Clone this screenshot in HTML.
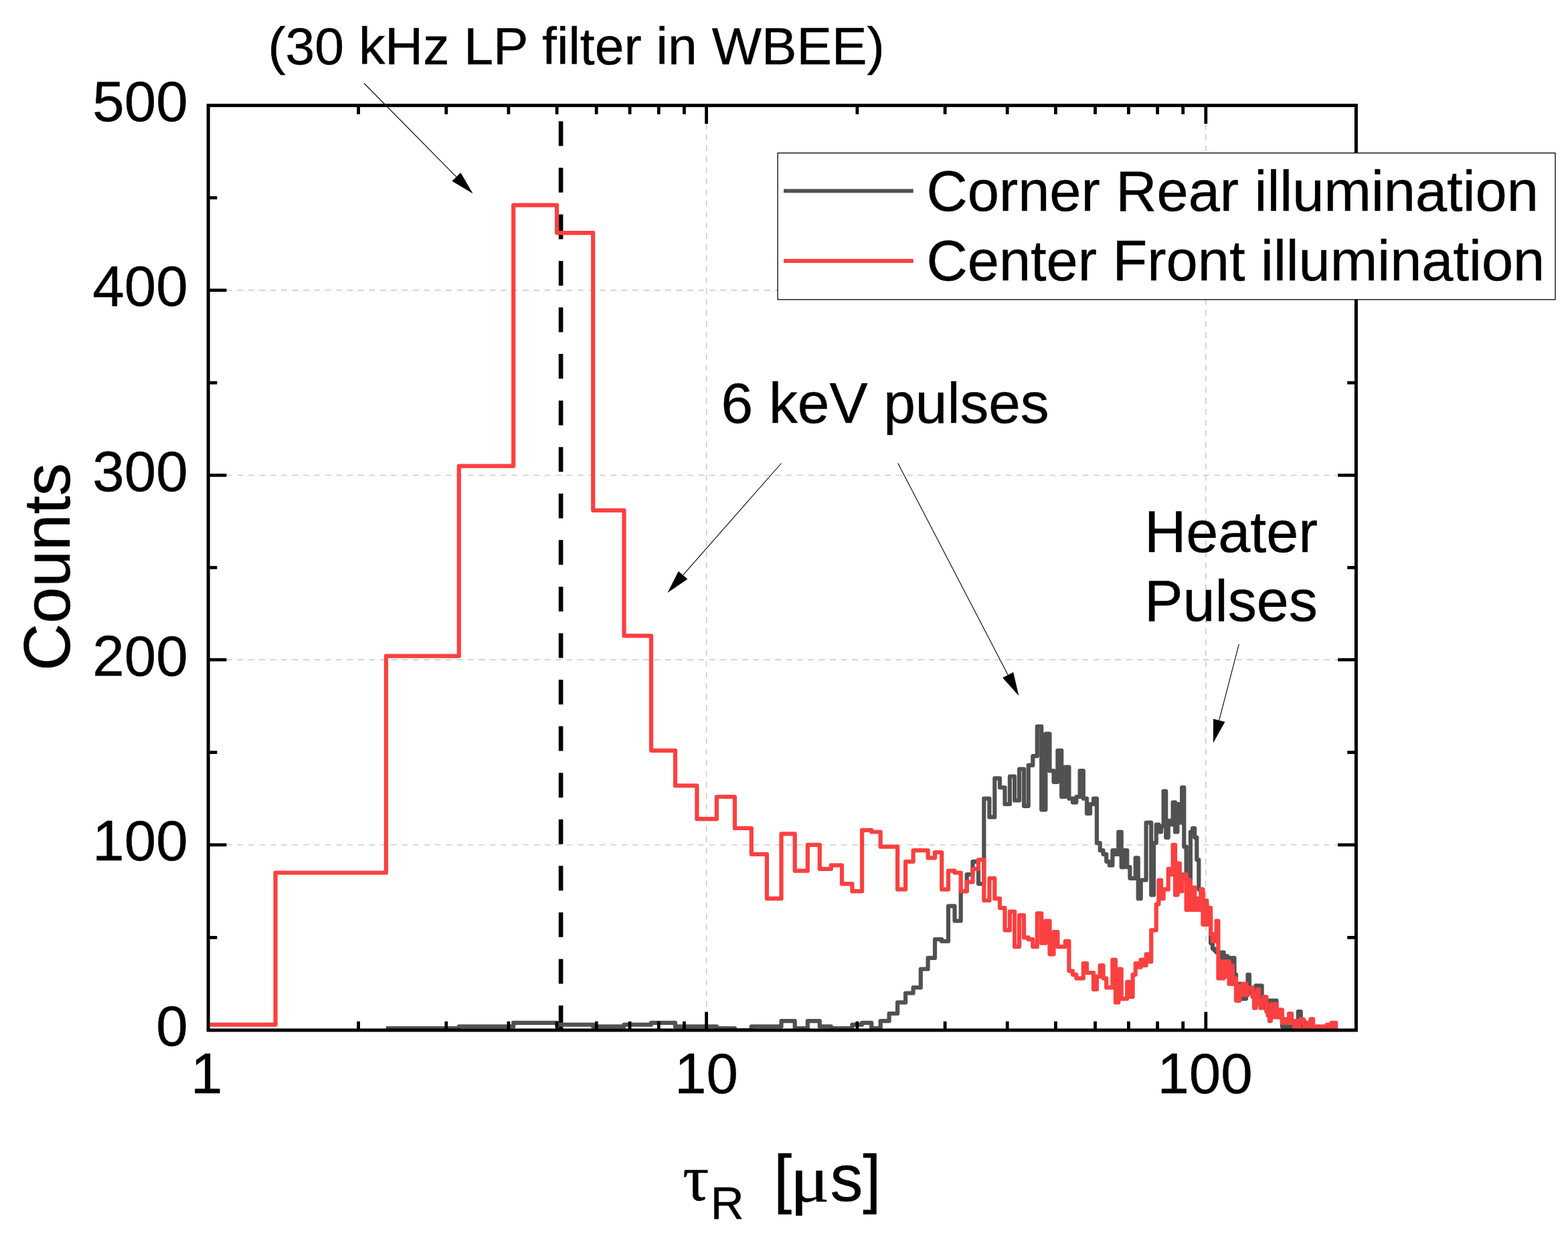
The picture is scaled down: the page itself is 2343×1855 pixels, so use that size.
<!DOCTYPE html>
<html lang="en"><head><meta charset="utf-8"><title>Rise time histogram</title>
<style>html,body{margin:0;padding:0;background:#fff}body{width:2343px;height:1855px;overflow:hidden}svg{display:block}</style>
</head><body>
<svg width="2343" height="1855" viewBox="0 0 2343 1855" font-family='"Liberation Sans", Arial, sans-serif' fill="#000"><style>text{stroke:#000;stroke-width:0.45px;stroke-linejoin:round}</style>
<rect x="0" y="0" width="2343" height="1855" fill="#fff"/>
<path d="M338.2 1262.9H1999.4 M338.2 986.2H1999.4 M338.2 710.4H1999.4 M338.2 433.8H1999.4 M1055.6 184.6V1512.9 M1801.8 184.6V1512.9" stroke="#c6c6c6" stroke-width="1.4" stroke-dasharray="8.8 7.6" fill="none"/>
<path d="M838.1 181.3V1539.9" stroke="#000" stroke-width="6.6" stroke-dasharray="37 32.56" fill="none"/>
<clipPath id="pc"><rect x="313.6" y="160.0" width="1710.4" height="1379.9"/></clipPath>
<g clip-path="url(#pc)" fill="none" stroke-width="6.2" stroke-linejoin="round" stroke-linecap="butt">
<path d="M576.9 1537.1 L685.8 1537.1 L685.8 1534.4 L767.2 1534.4 L767.2 1528.8 L832.1 1528.8 L832.1 1531.6 L886.2 1531.6 L886.2 1534.4 L932.5 1534.4 L932.5 1531.6 L973.0 1531.6 L973.0 1528.8 L1009.0 1528.8 L1009.0 1534.4 L1070.9 1534.4 L1070.9 1537.1 L1097.9 1537.1 L1097.9 1539.9 L1122.8 1539.9 L1122.8 1534.4 L1167.5 1534.4 L1167.5 1526.1 L1187.7 1526.1 L1187.7 1537.1 L1206.8 1537.1 L1206.8 1526.1 L1224.8 1526.1 L1224.8 1534.4 L1241.8 1534.4 L1241.8 1537.1 L1273.4 1537.1 L1273.4 1531.6 L1288.1 1531.6 L1288.1 1528.8 L1302.2 1528.8 L1302.2 1537.1 L1315.7 1537.1 L1315.7 1526.1 L1328.6 1526.1 L1328.6 1515.0 L1341.1 1515.0 L1341.1 1498.4 L1353.1 1498.4 L1353.1 1484.5 L1364.6 1484.5 L1364.6 1476.2 L1375.8 1476.2 L1375.8 1448.5 L1386.6 1448.5 L1386.6 1431.9 L1397.0 1431.9 L1397.0 1404.2 L1407.2 1404.2 L1407.2 1406.9 L1417.0 1406.9 L1417.0 1354.3 L1426.5 1354.3 L1426.5 1376.5 L1435.7 1376.5 L1435.7 1332.2 L1444.7 1332.2 L1444.7 1307.2 L1453.5 1307.2 L1453.5 1287.8 L1462.0 1287.8 L1462.0 1321.1 L1470.3 1321.1 L1470.3 1193.7 L1478.4 1193.7 L1478.4 1221.4 L1486.3 1221.4 L1486.3 1163.3 L1494.0 1163.3 L1494.0 1177.1 L1501.5 1177.1 L1501.5 1202.0 L1508.9 1202.0 L1508.9 1160.5 L1516.1 1160.5 L1516.1 1196.5 L1523.1 1196.5 L1523.1 1149.5 L1530.0 1149.5 L1530.0 1204.8 L1536.7 1204.8 L1536.7 1143.9 L1543.3 1143.9 L1543.3 1130.1 L1549.8 1130.1 L1549.8 1085.8 L1556.2 1085.8 L1556.2 1210.3 L1562.4 1210.3 L1562.4 1096.9 L1568.5 1096.9 L1568.5 1152.2 L1574.5 1152.2 L1574.5 1168.8 L1580.4 1168.8 L1580.4 1121.8 L1586.2 1121.8 L1586.2 1191.0 L1591.8 1191.0 L1591.8 1146.7 L1597.4 1146.7 L1597.4 1193.7 L1602.9 1193.7 L1602.9 1199.3 L1608.3 1199.3 L1608.3 1191.0 L1613.6 1191.0 L1613.6 1152.2 L1618.8 1152.2 L1618.8 1193.7 L1624.0 1193.7 L1624.0 1215.9 L1629.0 1215.9 L1629.0 1202.0 L1634.0 1202.0 L1634.0 1193.7 L1638.9 1193.7 L1638.9 1260.1 L1643.7 1260.1 L1643.7 1271.2 L1648.5 1271.2 L1648.5 1276.8 L1653.2 1276.8 L1653.2 1287.8 L1657.8 1287.8 L1657.8 1293.4 L1662.4 1293.4 L1662.4 1271.2 L1666.9 1271.2 L1666.9 1276.8 L1671.3 1276.8 L1671.3 1243.5 L1675.7 1243.5 L1675.7 1296.1 L1680.0 1296.1 L1680.0 1271.2 L1684.2 1271.2 L1684.2 1296.1 L1688.4 1296.1 L1688.4 1312.8 L1696.7 1312.8 L1696.7 1282.3 L1700.7 1282.3 L1700.7 1343.2 L1704.7 1343.2 L1704.7 1315.5 L1712.6 1315.5 L1712.6 1229.7 L1720.2 1229.7 L1720.2 1337.7 L1724.0 1337.7 L1724.0 1260.1 L1727.7 1260.1 L1727.7 1232.5 L1731.4 1232.5 L1731.4 1243.5 L1735.0 1243.5 L1735.0 1235.2 L1738.6 1235.2 L1738.6 1182.7 L1742.2 1182.7 L1742.2 1251.8 L1745.7 1251.8 L1745.7 1226.9 L1749.2 1226.9 L1749.2 1232.5 L1752.6 1232.5 L1752.6 1199.3 L1756.0 1199.3 L1756.0 1243.5 L1759.4 1243.5 L1759.4 1202.0 L1762.8 1202.0 L1762.8 1229.7 L1766.1 1229.7 L1766.1 1177.1 L1769.3 1177.1 L1769.3 1265.7 L1772.6 1265.7 L1772.6 1318.3 L1778.9 1318.3 L1778.9 1243.5 L1782.1 1243.5 L1782.1 1238.0 L1785.2 1238.0 L1785.2 1251.8 L1788.3 1251.8 L1788.3 1285.1 L1791.3 1285.1 L1791.3 1329.4 L1794.4 1329.4 L1794.4 1334.9 L1797.4 1334.9 L1797.4 1351.5 L1803.3 1351.5 L1803.3 1362.6 L1806.2 1362.6 L1806.2 1368.2 L1809.1 1368.2 L1809.1 1409.7 L1811.9 1409.7 L1811.9 1418.0 L1814.8 1418.0 L1814.8 1420.8 L1817.6 1420.8 L1817.6 1423.6 L1823.1 1423.6 L1823.1 1437.4 L1825.9 1437.4 L1825.9 1423.6 L1828.6 1423.6 L1828.6 1440.2 L1831.3 1440.2 L1831.3 1429.1 L1834.0 1429.1 L1834.0 1440.2 L1836.6 1440.2 L1836.6 1431.9 L1839.3 1431.9 L1839.3 1443.0 L1841.9 1443.0 L1841.9 1431.9 L1844.5 1431.9 L1844.5 1456.8 L1847.0 1456.8 L1847.0 1492.8 L1849.6 1492.8 L1849.6 1495.6 L1852.1 1495.6 L1852.1 1470.7 L1854.6 1470.7 L1854.6 1492.8 L1862.0 1492.8 L1862.0 1484.5 L1864.5 1484.5 L1864.5 1456.8 L1866.9 1456.8 L1866.9 1479.0 L1869.3 1479.0 L1869.3 1484.5 L1871.7 1484.5 L1871.7 1490.0 L1874.0 1490.0 L1874.0 1479.0 L1876.4 1479.0 L1876.4 1473.4 L1885.6 1473.4 L1885.6 1490.0 L1887.9 1490.0 L1887.9 1501.1 L1890.1 1501.1 L1890.1 1506.7 L1894.5 1506.7 L1894.5 1495.6 L1898.9 1495.6 L1898.9 1506.7 L1901.1 1506.7 L1901.1 1495.6 L1907.5 1495.6 L1907.5 1512.2 L1909.7 1512.2 L1909.7 1517.7 L1911.8 1517.7 L1911.8 1520.5 L1915.9 1520.5 L1915.9 1534.4 L1918.0 1534.4 L1918.0 1537.1 L1920.0 1537.1 L1920.0 1534.4 L1922.1 1534.4 L1922.1 1537.1 L1924.1 1537.1 L1924.1 1534.4 L1926.1 1534.4 L1926.1 1537.1 L1928.1 1537.1 L1928.1 1534.4 L1932.1 1534.4 L1932.1 1531.6 L1936.0 1531.6 L1936.0 1528.8 L1937.9 1528.8 L1937.9 1526.1 L1939.8 1526.1 L1939.8 1512.2 L1943.7 1512.2 L1943.7 1526.1 L1945.5 1526.1 L1945.5 1531.6 L1947.4 1531.6 L1947.4 1534.4 L1954.8 1534.4 L1954.8 1537.1 L1967.4 1537.1 L1967.4 1539.9" stroke="#515151"/>
<path d="M311.2 1531.6 L411.6 1531.6 L411.6 1304.5 L576.9 1304.5 L576.9 980.7 L685.8 980.7 L685.8 696.6 L767.2 696.6 L767.2 306.7 L832.1 306.7 L832.1 348.1 L886.2 348.1 L886.2 762.8 L932.5 762.8 L932.5 950.3 L973.0 950.3 L973.0 1121.8 L1009.0 1121.8 L1009.0 1174.4 L1041.4 1174.4 L1041.4 1224.2 L1070.9 1224.2 L1070.9 1191.0 L1097.9 1191.0 L1097.9 1238.0 L1122.8 1238.0 L1122.8 1276.8 L1145.9 1276.8 L1145.9 1343.2 L1167.5 1343.2 L1167.5 1246.3 L1187.7 1246.3 L1187.7 1301.7 L1206.8 1301.7 L1206.8 1262.9 L1224.8 1262.9 L1224.8 1298.9 L1241.8 1298.9 L1241.8 1293.4 L1258.0 1293.4 L1258.0 1321.1 L1273.4 1321.1 L1273.4 1332.2 L1288.1 1332.2 L1288.1 1240.8 L1302.2 1240.8 L1302.2 1243.5 L1315.7 1243.5 L1315.7 1265.7 L1341.1 1265.7 L1341.1 1329.4 L1353.1 1329.4 L1353.1 1287.8 L1364.6 1287.8 L1364.6 1271.2 L1386.6 1271.2 L1386.6 1282.3 L1397.0 1282.3 L1397.0 1274.0 L1407.2 1274.0 L1407.2 1329.4 L1417.0 1329.4 L1417.0 1301.7 L1426.5 1301.7 L1426.5 1304.5 L1435.7 1304.5 L1435.7 1332.2 L1444.7 1332.2 L1444.7 1318.3 L1453.5 1318.3 L1453.5 1298.9 L1462.0 1298.9 L1462.0 1285.1 L1470.3 1285.1 L1470.3 1346.0 L1478.4 1346.0 L1478.4 1312.8 L1486.3 1312.8 L1486.3 1343.2 L1494.0 1343.2 L1494.0 1357.1 L1501.5 1357.1 L1501.5 1390.3 L1508.9 1390.3 L1508.9 1362.6 L1516.1 1362.6 L1516.1 1415.2 L1523.1 1415.2 L1523.1 1368.2 L1530.0 1368.2 L1530.0 1401.4 L1536.7 1401.4 L1536.7 1404.2 L1543.3 1404.2 L1543.3 1415.2 L1549.8 1415.2 L1549.8 1365.4 L1556.2 1365.4 L1556.2 1409.7 L1562.4 1409.7 L1562.4 1376.5 L1568.5 1376.5 L1568.5 1426.3 L1574.5 1426.3 L1574.5 1393.1 L1580.4 1393.1 L1580.4 1415.2 L1591.8 1415.2 L1591.8 1406.9 L1597.4 1406.9 L1597.4 1451.3 L1602.9 1451.3 L1602.9 1456.8 L1608.3 1456.8 L1608.3 1462.3 L1618.8 1462.3 L1618.8 1440.2 L1624.0 1440.2 L1624.0 1454.0 L1634.0 1454.0 L1634.0 1479.0 L1638.9 1479.0 L1638.9 1459.6 L1643.7 1459.6 L1643.7 1443.0 L1648.5 1443.0 L1648.5 1462.3 L1653.2 1462.3 L1653.2 1476.2 L1662.4 1476.2 L1662.4 1434.6 L1666.9 1434.6 L1666.9 1498.4 L1671.3 1498.4 L1671.3 1448.5 L1675.7 1448.5 L1675.7 1492.8 L1684.2 1492.8 L1684.2 1467.9 L1688.4 1467.9 L1688.4 1490.0 L1692.6 1490.0 L1692.6 1456.8 L1696.7 1456.8 L1696.7 1440.2 L1700.7 1440.2 L1700.7 1445.7 L1704.7 1445.7 L1704.7 1434.6 L1708.7 1434.6 L1708.7 1443.0 L1712.6 1443.0 L1712.6 1426.3 L1716.4 1426.3 L1716.4 1437.4 L1720.2 1437.4 L1720.2 1390.3 L1727.7 1390.3 L1727.7 1351.5 L1731.4 1351.5 L1731.4 1315.5 L1735.0 1315.5 L1735.0 1343.2 L1738.6 1343.2 L1738.6 1329.4 L1745.7 1329.4 L1745.7 1298.9 L1749.2 1298.9 L1749.2 1307.2 L1752.6 1307.2 L1752.6 1262.9 L1756.0 1262.9 L1756.0 1337.7 L1759.4 1337.7 L1759.4 1290.6 L1762.8 1290.6 L1762.8 1332.2 L1766.1 1332.2 L1766.1 1307.2 L1772.6 1307.2 L1772.6 1359.9 L1775.8 1359.9 L1775.8 1315.5 L1778.9 1315.5 L1778.9 1359.9 L1782.1 1359.9 L1782.1 1326.6 L1785.2 1326.6 L1785.2 1359.9 L1788.3 1359.9 L1788.3 1343.2 L1791.3 1343.2 L1791.3 1359.9 L1794.4 1359.9 L1794.4 1329.4 L1797.4 1329.4 L1797.4 1382.0 L1800.3 1382.0 L1800.3 1346.0 L1803.3 1346.0 L1803.3 1382.0 L1806.2 1382.0 L1806.2 1357.1 L1809.1 1357.1 L1809.1 1395.9 L1811.9 1395.9 L1811.9 1406.9 L1817.6 1406.9 L1817.6 1376.5 L1820.4 1376.5 L1820.4 1462.3 L1823.1 1462.3 L1823.1 1437.4 L1825.9 1437.4 L1825.9 1462.3 L1828.6 1462.3 L1828.6 1437.4 L1831.3 1437.4 L1831.3 1459.6 L1834.0 1459.6 L1834.0 1437.4 L1836.6 1437.4 L1836.6 1470.7 L1839.3 1470.7 L1839.3 1443.0 L1841.9 1443.0 L1841.9 1470.7 L1844.5 1470.7 L1844.5 1462.3 L1847.0 1462.3 L1847.0 1495.6 L1852.1 1495.6 L1852.1 1473.4 L1854.6 1473.4 L1854.6 1487.3 L1857.1 1487.3 L1857.1 1470.7 L1862.0 1470.7 L1862.0 1487.3 L1864.5 1487.3 L1864.5 1476.2 L1871.7 1476.2 L1871.7 1490.0 L1874.0 1490.0 L1874.0 1506.7 L1876.4 1506.7 L1876.4 1484.5 L1878.7 1484.5 L1878.7 1479.0 L1881.0 1479.0 L1881.0 1501.1 L1883.3 1501.1 L1883.3 1506.7 L1885.6 1506.7 L1885.6 1495.6 L1887.9 1495.6 L1887.9 1490.0 L1892.3 1490.0 L1892.3 1512.2 L1894.5 1512.2 L1894.5 1517.7 L1896.8 1517.7 L1896.8 1526.1 L1898.9 1526.1 L1898.9 1501.1 L1901.1 1501.1 L1901.1 1520.5 L1903.3 1520.5 L1903.3 1501.1 L1907.5 1501.1 L1907.5 1520.5 L1909.7 1520.5 L1909.7 1515.0 L1911.8 1515.0 L1911.8 1509.4 L1915.9 1509.4 L1915.9 1528.8 L1918.0 1528.8 L1918.0 1523.3 L1922.1 1523.3 L1922.1 1528.8 L1924.1 1528.8 L1924.1 1523.3 L1926.1 1523.3 L1926.1 1515.0 L1930.1 1515.0 L1930.1 1528.8 L1932.1 1528.8 L1932.1 1526.1 L1934.0 1526.1 L1934.0 1537.1 L1936.0 1537.1 L1936.0 1526.1 L1939.8 1526.1 L1939.8 1537.1 L1941.8 1537.1 L1941.8 1528.8 L1943.7 1528.8 L1943.7 1523.3 L1947.4 1523.3 L1947.4 1526.1 L1949.3 1526.1 L1949.3 1537.1 L1951.2 1537.1 L1951.2 1528.8 L1954.8 1528.8 L1954.8 1537.1 L1956.7 1537.1 L1956.7 1531.6 L1958.5 1531.6 L1958.5 1523.3 L1962.1 1523.3 L1962.1 1537.1 L1963.9 1537.1 L1963.9 1534.4 L1967.4 1534.4 L1967.4 1539.9 L1969.2 1539.9 L1969.2 1534.4 L1972.7 1534.4 L1972.7 1537.1 L1974.4 1537.1 L1974.4 1534.4 L1977.9 1534.4 L1977.9 1539.9 L1979.6 1539.9 L1979.6 1534.4 L1981.3 1534.4 L1981.3 1537.1 L1982.9 1537.1 L1982.9 1531.6 L1987.9 1531.6 L1987.9 1537.1 L1989.6 1537.1 L1989.6 1528.8 L1992.9 1528.8 L1992.9 1534.4 L1994.5 1534.4 L1994.5 1528.8 L1996.1 1528.8 L1996.1 1539.9" stroke="#fb4040"/>
</g>
<rect x="311.2" y="157.6" width="1715.2" height="1382.3" fill="none" stroke="#000" stroke-width="5"/>
<path d="M311.2 1401.4h13.2 M2026.4 1401.4h-13.2 M311.2 1262.9h27.3 M2026.4 1262.9h-27.3 M311.2 1124.6h13.2 M2026.4 1124.6h-13.2 M311.2 986.2h27.3 M2026.4 986.2h-27.3 M311.2 848.3h13.2 M2026.4 848.3h-13.2 M311.2 710.4h27.3 M2026.4 710.4h-27.3 M311.2 572.1h13.2 M2026.4 572.1h-13.2 M311.2 433.8h27.3 M2026.4 433.8h-27.3 M311.2 295.6h13.2 M2026.4 295.6h-13.2 M535.6 1539.9v-13.2 M535.6 157.6v13.2 M666.8 1539.9v-13.2 M666.8 157.6v13.2 M759.9 1539.9v-13.2 M759.9 157.6v13.2 M832.1 1539.9v-13.2 M832.1 157.6v13.2 M891.2 1539.9v-13.2 M891.2 157.6v13.2 M941.1 1539.9v-13.2 M941.1 157.6v13.2 M984.3 1539.9v-13.2 M984.3 157.6v13.2 M1022.4 1539.9v-13.2 M1022.4 157.6v13.2 M1055.6 1539.9v-27.3 M1055.6 157.6v27.3 M1280.9 1539.9v-13.2 M1280.9 157.6v13.2 M1412.1 1539.9v-13.2 M1412.1 157.6v13.2 M1505.2 1539.9v-13.2 M1505.2 157.6v13.2 M1577.4 1539.9v-13.2 M1577.4 157.6v13.2 M1636.5 1539.9v-13.2 M1636.5 157.6v13.2 M1686.4 1539.9v-13.2 M1686.4 157.6v13.2 M1729.6 1539.9v-13.2 M1729.6 157.6v13.2 M1767.7 1539.9v-13.2 M1767.7 157.6v13.2 M1801.8 1539.9v-27.3 M1801.8 157.6v27.3" stroke="#000" stroke-width="4.8" fill="none"/>
<g font-size="85.3" text-anchor="end">
<text x="280.6" y="1563.2">0</text>
<text x="280.6" y="1286.2">100</text>
<text x="280.6" y="1009.5">200</text>
<text x="280.6" y="733.7">300</text>
<text x="280.6" y="457.1">400</text>
<text x="280.6" y="180.8">500</text>
</g>
<g font-size="85.3" text-anchor="middle">
<text x="308.7" y="1634.0">1</text>
<text x="1055.5" y="1634.0">10</text>
<text x="1800.6" y="1634.0">100</text>
</g>
<text transform="translate(104.3 847.6) rotate(-90)" font-size="98" text-anchor="middle">Counts</text>
<g font-size="98"><text x="1020.1" y="1794.4" font-family='"Liberation Serif", serif' stroke="#000" stroke-width="2" stroke-linejoin="round">τ</text><text x="1061.8" y="1821.5" font-size="69">R</text><text x="1156" y="1795.4">[</text><text transform="translate(1180.4 1795.6) scale(1.1 1)" font-size="100" font-family='"Liberation Serif", serif' stroke="#000" stroke-width="1.6" stroke-linejoin="round">μ</text><text x="1240.4 1289.2" y="1795.4">s]</text></g>
<text x="400.4" y="96" font-size="78.7">(30 kHz LP filter in WBEE)</text>
<text x="1077.6" y="632" font-size="85.6">6 keV pulses</text>
<text x="1710" y="824.6" font-size="86.3">Heater</text>
<text x="1710" y="928.1" font-size="86.3">Pulses</text>
<path d="M544.0 124.5L681.9 264.4" stroke="#000" stroke-width="1.1" fill="none"/><path d="M706.5 289.3L675.5 270.7L688.3 258.1Z" fill="#000"/>
<path d="M1167.4 692.5L1020.6 859.7" stroke="#000" stroke-width="1.1" fill="none"/><path d="M997.5 886.0L1013.8 853.8L1027.4 865.6Z" fill="#000"/>
<path d="M1341.8 692.5L1506.2 1008.9" stroke="#000" stroke-width="1.1" fill="none"/><path d="M1522.3 1040.0L1498.2 1013.1L1514.2 1004.8Z" fill="#000"/>
<path d="M1851.3 962.9L1821.7 1076.7" stroke="#000" stroke-width="1.1" fill="none"/><path d="M1812.9 1110.6L1813.0 1074.5L1830.4 1079.0Z" fill="#000"/>
<rect x="1162.1" y="228.7" width="1161.9" height="219.1" fill="#fff" stroke="#000" stroke-width="1.3"/>
<path d="M1171 285.4H1364.8" stroke="#515151" stroke-width="5.8"/>
<path d="M1171 390H1364.8" stroke="#fb4040" stroke-width="5.8"/>
<text x="1384.5" y="314.6" font-size="84.8">Corner Rear illumination</text>
<text x="1384.5" y="418.8" font-size="84.8">Center Front illumination</text>
</svg>
</body></html>
